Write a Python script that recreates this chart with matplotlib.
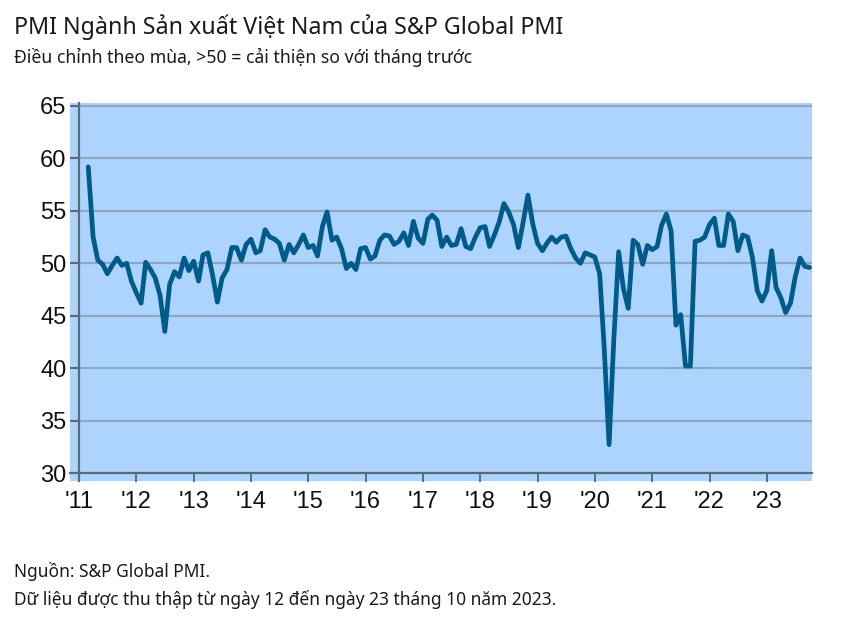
import matplotlib
matplotlib.use("Agg")
import matplotlib.pyplot as plt
import matplotlib.dates as mdates
import numpy as np
import pandas as pd

# ---- data ----
start_month = "2011-03-01"
pmi_2011 = [59.2, 52.5, 50.3, 49.9, 49.0, 49.8, 50.5, 49.8, 50.0, 48.3]
pmi_2012 = [47.2, 46.2, 50.1, 49.4, 48.6, 46.9, 43.5, 48.0, 49.2, 48.7, 50.5, 49.3]
pmi_2013 = [50.2, 48.3, 50.8, 51.0, 48.9, 46.3, 48.6, 49.4, 51.5, 51.5, 50.3, 51.8]
pmi_2014 = [52.3, 51.0, 51.2, 53.2, 52.5, 52.3, 51.9, 50.3, 51.8, 51.0, 51.8, 52.7]
pmi_2015 = [51.5, 51.7, 50.7, 53.5, 54.9, 52.2, 52.5, 51.4, 49.5, 50.0, 49.4, 51.4]
pmi_2016 = [51.5, 50.4, 50.7, 52.2, 52.7, 52.6, 51.8, 52.1, 52.9, 51.7, 54.0, 52.4]
pmi_2017 = [51.9, 54.2, 54.6, 54.1, 51.6, 52.5, 51.7, 51.8, 53.3, 51.6, 51.4, 52.5]
pmi_2018 = [53.4, 53.5, 51.6, 52.7, 53.9, 55.7, 54.9, 53.7, 51.5, 53.9, 56.5, 53.8]
pmi_2019 = [51.9, 51.2, 51.9, 52.5, 52.0, 52.5, 52.6, 51.4, 50.5, 50.0, 51.0, 50.8]
pmi_2020 = [50.6, 49.0, 41.9, 32.7, 42.7, 51.1, 47.6, 45.7, 52.2, 51.8, 49.9, 51.7]
pmi_2021 = [51.3, 51.6, 53.6, 54.7, 53.1, 44.1, 45.1, 40.2, 40.2, 52.1, 52.2, 52.5]
pmi_2022 = [53.7, 54.3, 51.7, 51.7, 54.7, 54.0, 51.2, 52.7, 52.5, 50.6, 47.4, 46.4]
pmi_2023 = [47.4, 51.2, 47.7, 46.7, 45.3, 46.2, 48.7, 50.5, 49.7, 49.6]

tick_years = list(range(2011, 2024))
tick_labels = ["'11", "'12", "'13", "'14", "'15", "'16", "'17", "'18", "'19", "'20", "'21", "'22", "'23"]
y_ticks = [30, 35, 40, 45, 50, 55, 60, 65]

title = "PMI Ngành Sản xuất Việt Nam của S&P Global PMI"
subtitle = "Điều chỉnh theo mùa, >50 = cải thiện so với tháng trước"
footer1 = "Nguồn: S&P Global PMI."
footer2 = "Dữ liệu được thu thập từ ngày 12 đến ngày 23 tháng 10 năm 2023."

values = (pmi_2011 + pmi_2012 + pmi_2013 + pmi_2014 + pmi_2015 + pmi_2016 +
          pmi_2017 + pmi_2018 + pmi_2019 + pmi_2020 + pmi_2021 + pmi_2022 + pmi_2023)
dates = pd.date_range(start_month, periods=len(values), freq="MS")

# ---- figure ----
fig = plt.figure(figsize=(8.48, 6.23), dpi=100)
ax = fig.add_axes([70 / 848, 1 - 481 / 623, 742 / 848, 378 / 623])

bg = "#ADD4FE"
ax.set_facecolor(bg)
line_color = "#005A8A"
grid_color = "#8EA6C2"
spine_color = "#5C6B7A"

ax.plot(dates, values, color=line_color, linewidth=3.4, solid_joinstyle="round",
        solid_capstyle="round", zorder=3)

origin = pd.Timestamp("2011-01-01")
month_days = 30.44
ax.set_xlim(mdates.date2num(origin) - 1.88 * month_days,
            mdates.date2num(origin) + 153.45 * month_days)
ax.set_ylim(30 - 8 / 10.49, 65 + 3 / 10.49)

for v in y_ticks[1:]:
    ax.axhline(v, color=grid_color, linewidth=1.6, zorder=1)

ax.spines["top"].set_visible(False)
ax.spines["right"].set_visible(False)
ax.spines["left"].set_position(("data", mdates.date2num(origin)))
ax.spines["bottom"].set_position(("data", 30))
for s in ("left", "bottom"):
    ax.spines[s].set_color(spine_color)
    ax.spines[s].set_linewidth(1.6)
    ax.spines[s].set_zorder(2)

ax.set_yticks(y_ticks)
ax.set_yticklabels([str(v) for v in y_ticks])
ax.set_xticks([pd.Timestamp(f"{y}-01-01") for y in tick_years])
ax.set_xticklabels(tick_labels)
ax.tick_params(axis="both", colors=spine_color, width=1.4, length=6.5, direction="out",
               labelcolor="#111111", labelsize=17)
ax.tick_params(axis="y", pad=2.5)
ax.tick_params(axis="x", pad=6.5)
for lab in ax.get_xticklabels() + ax.get_yticklabels():
    lab.set_fontfamily(["Liberation Sans", "DejaVu Sans"])

txt_font = ["Noto Sans", "DejaVu Sans"]
fig.text(14 / 848, 1 - 34 / 623, title, fontsize=16.75, color="#1a1a1a",
         family=txt_font, ha="left", va="baseline")
fig.text(14 / 848, 1 - 63 / 623, subtitle, fontsize=12.7, color="#1a1a1a",
         family=txt_font, ha="left", va="baseline")
fig.text(14 / 848, 1 - 577 / 623, footer1, fontsize=12.5, color="#1a1a1a",
         family=txt_font, ha="left", va="baseline")
fig.text(14 / 848, 1 - 605 / 623, footer2, fontsize=12.5, color="#1a1a1a",
         family=txt_font, ha="left", va="baseline")

fig.savefig("out.png", dpi=100, facecolor="white")
